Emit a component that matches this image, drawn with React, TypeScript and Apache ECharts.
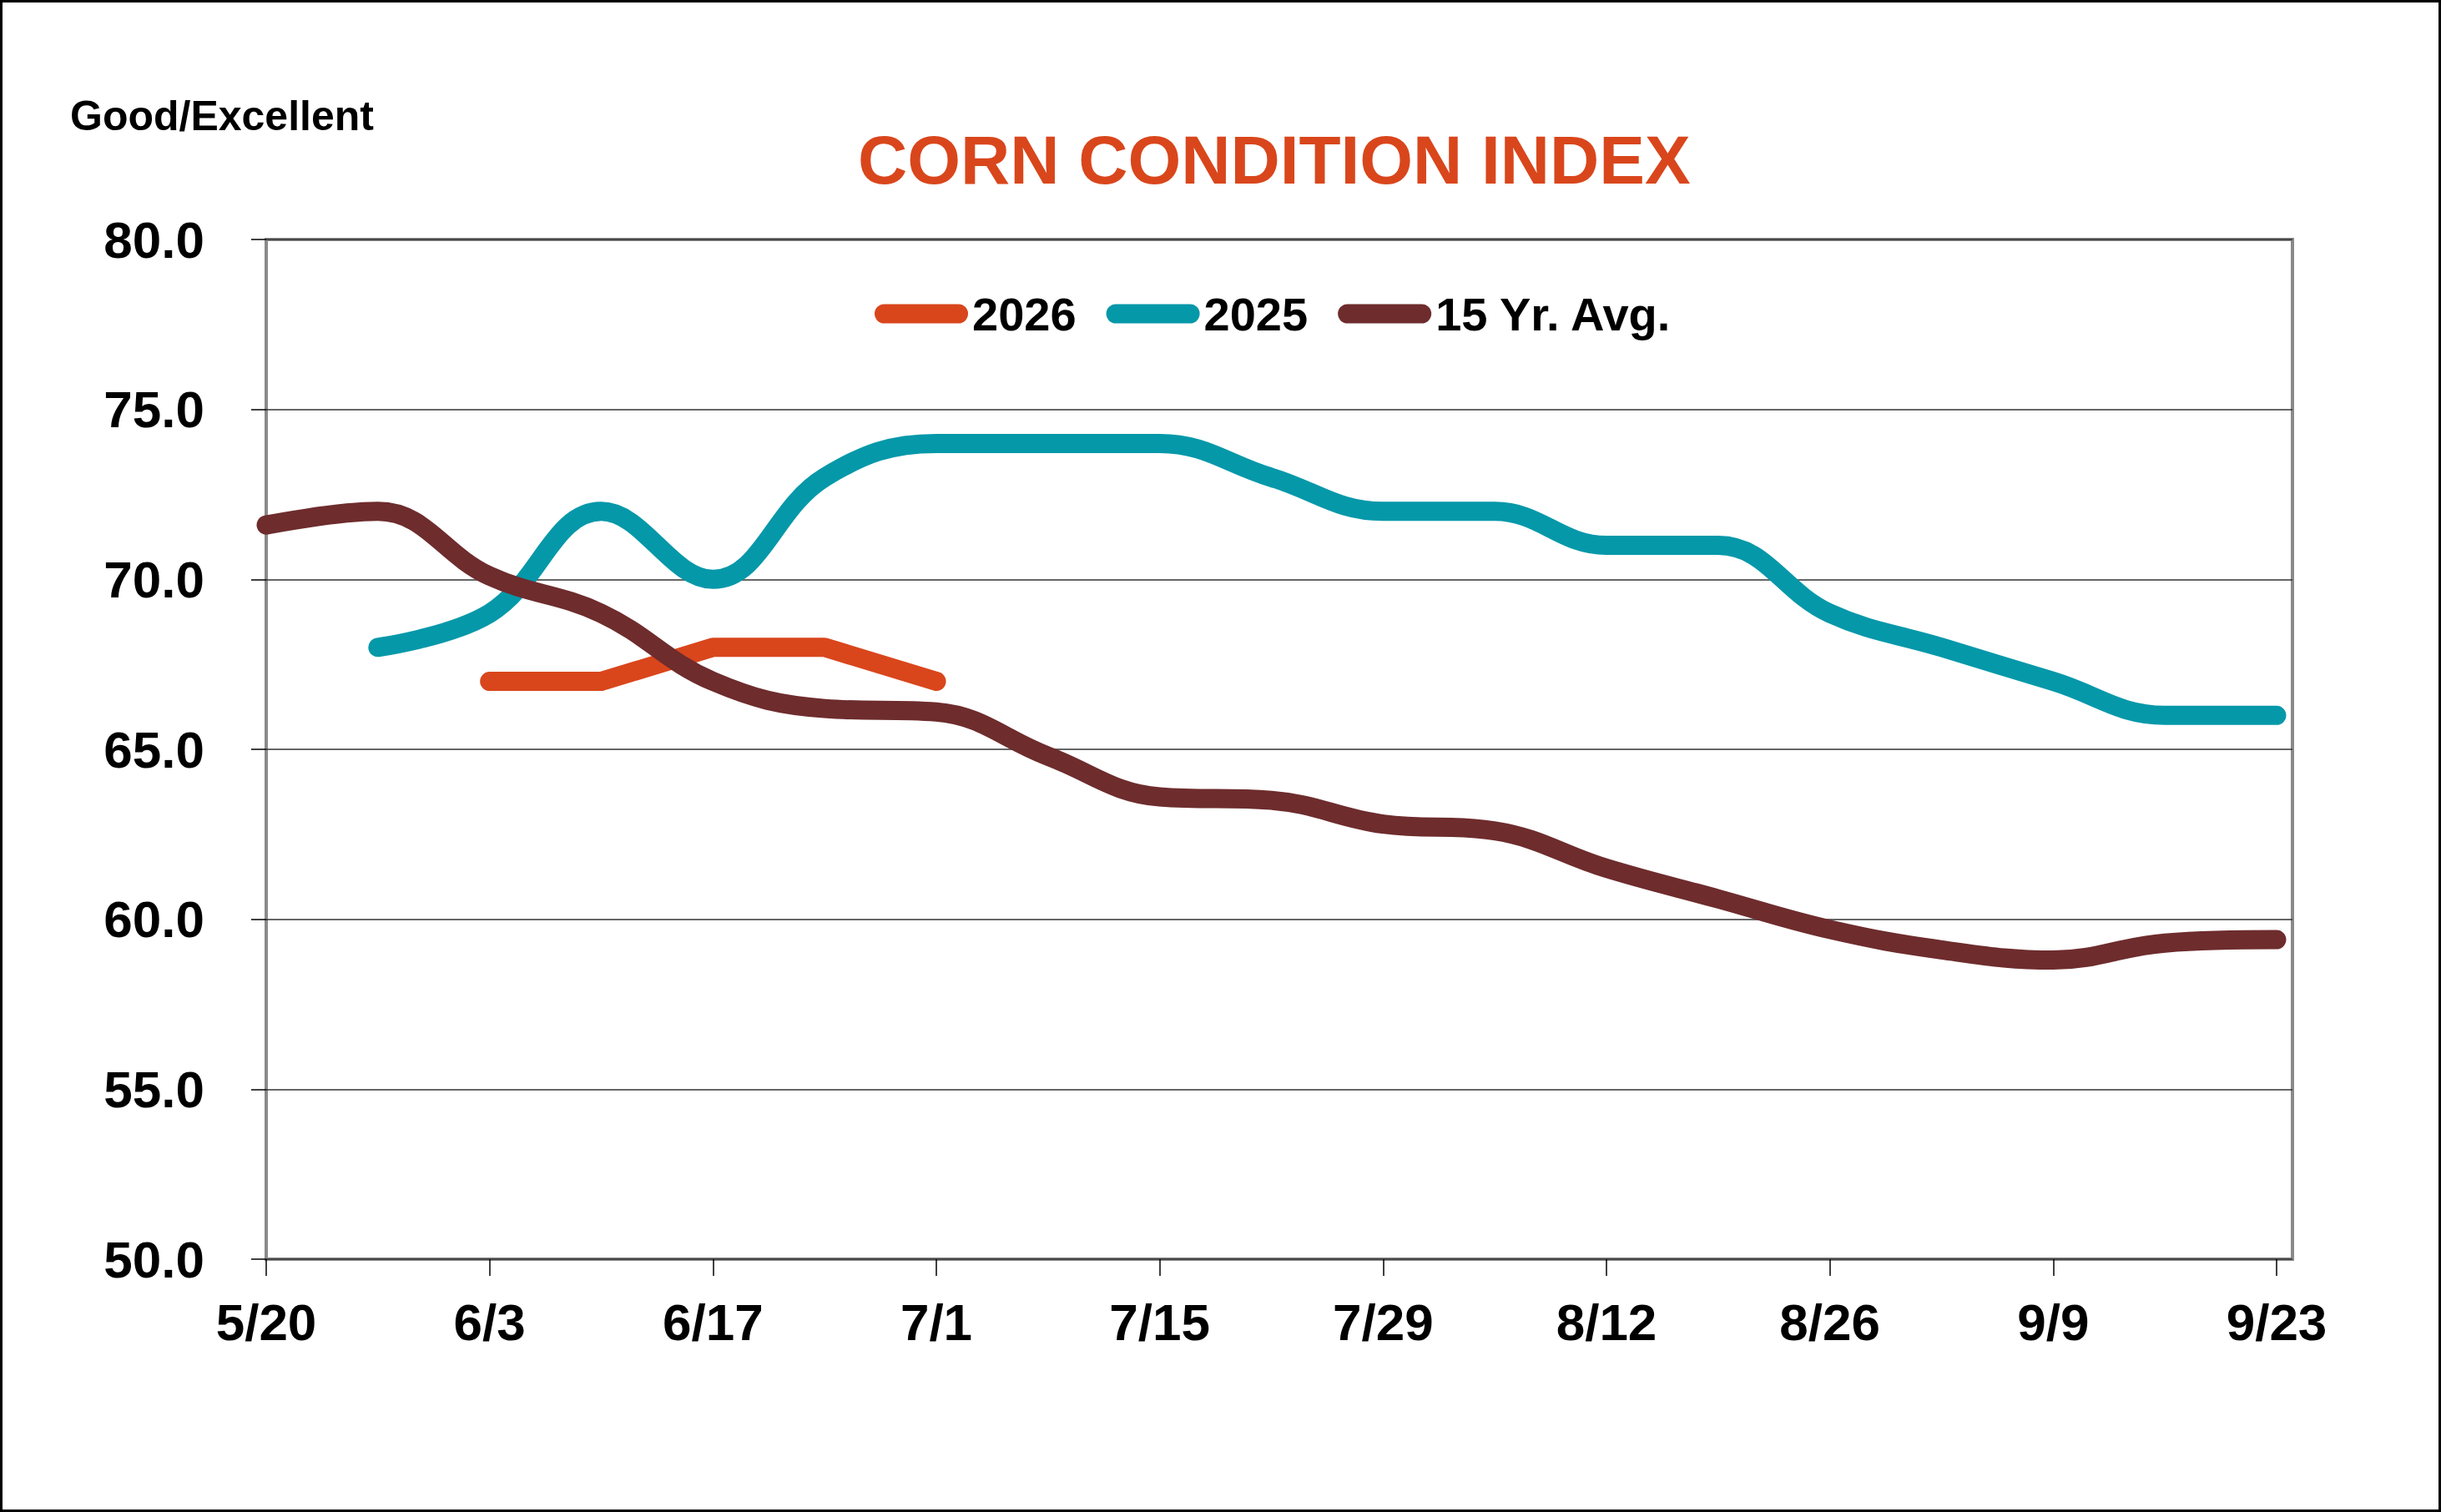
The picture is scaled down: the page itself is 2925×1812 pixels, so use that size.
import React, { useEffect, useRef } from "react";
import * as echarts from "echarts";

// Weekly crop-progress dates (week index 0 = 5/20)
const weekDates = [
  "5/20", "5/27", "6/3", "6/10", "6/17", "6/24", "7/1", "7/8", "7/15", "7/22",
  "7/29", "8/5", "8/12", "8/19", "8/26", "9/2", "9/9", "9/16", "9/23",
];

// Axis labels shown every second week
const xTickLabels = ["5/20", "6/3", "6/17", "7/1", "7/15", "7/29", "8/12", "8/26", "9/9", "9/23"];

// Good/Excellent ratings, % of crop
const rating2026 = [67, 67, 68, 68, 67]; // from 6/3
const rating2025 = [68, 69, 72, 70, 73, 74, 74, 74, 73, 72, 72, 71, 71, 69, 68, 67, 66, 66]; // from 5/27
const rating15YrAvg = [
  71.6, 72.0, 70.1, 69.0, 67.0, 66.2, 66.1, 64.8, 63.6, 63.5,
  62.8, 62.6, 61.5, 60.6, 59.7, 59.1, 58.8, 59.3, 59.4,
]; // from 5/20

const start2026 = weekDates.indexOf("6/3");
const start2025 = weekDates.indexOf("5/27");
const start15Yr = weekDates.indexOf("5/20");

const FONT = "'Liberation Sans', Arial, Helvetica, sans-serif";
const ORANGE = "#D9461C";
const TEAL = "#0598A9";
const BROWN = "#6E2C2D";
const LINE_WIDTH = 23;

const toPoints = (values: number[], start: number) =>
  values.map((v, i) => [start + i, v]);

export default function App() {
  const ref = useRef<HTMLDivElement>(null);

  useEffect(() => {
    if (!ref.current) return;
    const chart = echarts.init(ref.current, undefined, { renderer: "svg" });

    const tickValues = xTickLabels.map((_, i) => i * 2);
    const lastWeek = weekDates.length - 1;

    const lineSeries = (name: string, values: number[], start: number, color: string, smooth: number | boolean) => ({
      name,
      type: "line",
      data: toPoints(values, start),
      showSymbol: false,
      symbol: "none",
      smooth,
      itemStyle: { color },
      lineStyle: { color, width: LINE_WIDTH, cap: "round", join: "round" },
    });

    chart.setOption({
      animation: false,
      backgroundColor: "#ffffff",
      title: [
        {
          text: "CORN CONDITION INDEX",
          left: 1028,
          top: 150,
          padding: 0,
          textStyle: { fontFamily: FONT, fontSize: 82, fontWeight: "bold", color: ORANGE },
        },
        {
          text: "Good/Excellent",
          left: 84,
          top: 114,
          padding: 0,
          textStyle: { fontFamily: FONT, fontSize: 50, fontWeight: "bold", color: "#000" },
        },
      ],
      legend: {
        left: 1048,
        top: 348,
        padding: 0,
        itemWidth: 112,
        itemHeight: 23,
        itemGap: 36,
        icon: "path://M11.5 0H100.5A11.5 11.5 0 0 1 100.5 23H11.5A11.5 11.5 0 0 1 11.5 0Z",
        textStyle: { fontFamily: FONT, fontSize: 56, fontWeight: "bold", color: "#000" },
        data: ["2026", "2025", "15 Yr. Avg."],
      },
      grid: {
        left: 319,
        top: 287,
        width: 2428,
        height: 1222,
        show: true,
        borderColor: "#8a8a8a",
        borderWidth: 4,
        backgroundColor: "transparent",
      },
      xAxis: {
        type: "value",
        min: 0,
        max: lastWeek * 2428 / 2409,
        interval: 2,
        axisLine: { show: false },
        splitLine: { show: false },
        axisTick: {
          show: true,
          length: 20,
          lineStyle: { color: "#000", width: 1.5 },
          customValues: tickValues,
        },
        axisLabel: {
          customValues: tickValues,
          margin: 44,
          fontFamily: FONT,
          fontSize: 62,
          fontWeight: "bold",
          color: "#000",
          formatter: (v: number) =>
            Math.abs(v - Math.round(v)) > 1e-6 ? "" : xTickLabels[Math.round(v / 2)] ?? "",
        },
      },
      yAxis: {
        type: "value",
        min: 50,
        max: 80,
        interval: 5,
        axisLine: { show: false },
        axisTick: { show: true, length: 18, lineStyle: { color: "#000", width: 1.5 } },
        splitLine: { show: true, lineStyle: { color: "#333", width: 1.5 } },
        axisLabel: {
          margin: 74,
          fontFamily: FONT,
          fontSize: 62,
          fontWeight: "bold",
          color: "#000",
          formatter: (v: number) => v.toFixed(1),
        },
      },
      series: [
        lineSeries("2026", rating2026, start2026, ORANGE, false),
        lineSeries("2025", rating2025, start2025, TEAL, 0.4),
        lineSeries("15 Yr. Avg.", rating15YrAvg, start15Yr, BROWN, 0.4),
      ],
    });

    return () => chart.dispose();
  }, []);

  return (
    <div
      style={{
        position: "fixed",
        left: 0,
        top: 0,
        width: 2925,
        height: 1812,
        background: "#fff",
      }}
    >
      <div ref={ref} style={{ position: "absolute", left: 0, top: 0, width: 2925, height: 1812 }} />
      <div
        style={{
          position: "absolute",
          left: 0,
          top: 0,
          width: 2925,
          height: 1812,
          boxSizing: "border-box",
          border: "3px solid #000",
          pointerEvents: "none",
        }}
      />
    </div>
  );
}
